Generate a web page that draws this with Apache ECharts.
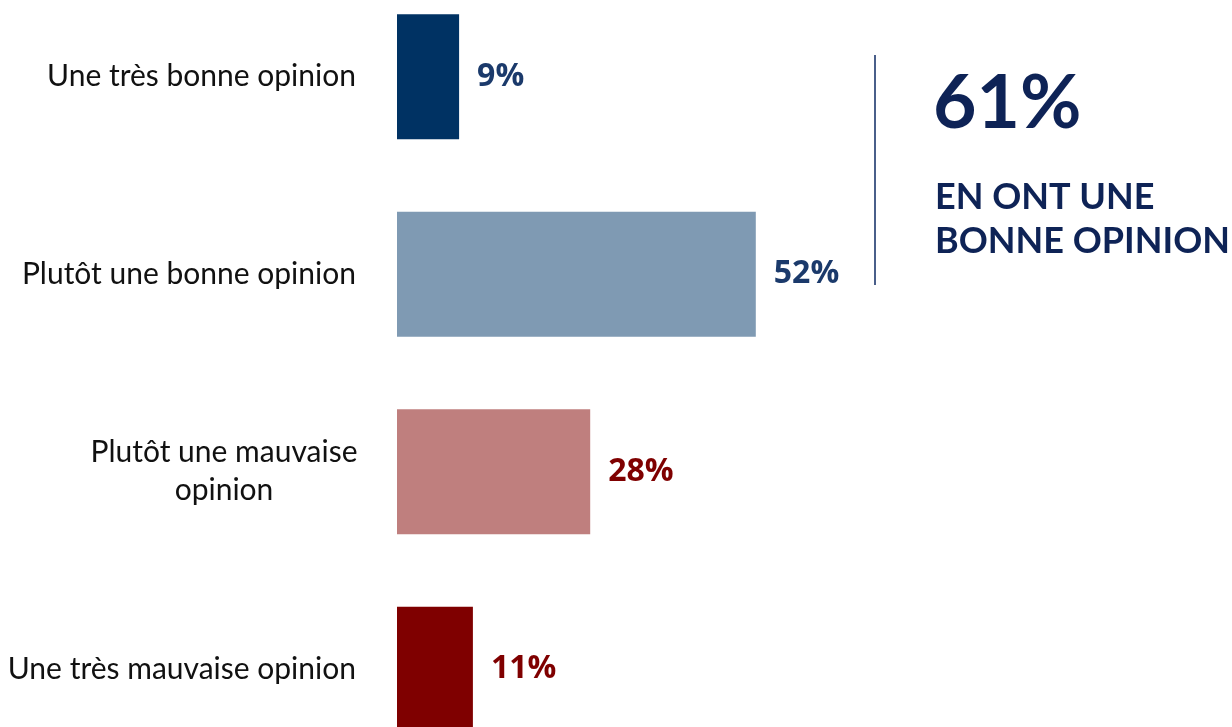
<!DOCTYPE html>
<html><head><meta charset="utf-8">
<script src="https://cdn.jsdelivr.net/npm/echarts@6/dist/echarts.min.js"></script>
<style>html,body{margin:0;padding:0;background:#fff}#c{width:1232px;height:727px}</style>
</head><body><div id="c"></div>
<script>
const categories = ["Une très bonne opinion", "Plutôt une bonne opinion", "Plutôt une mauvaise\nopinion", "Une très mauvaise opinion"];
const values = [9, 52, 28, 11];
const barColors = ["#003263", "#7F9AB3", "#BF7F7E", "#7F0000"];
const labelColors = ["#1B3A6B", "#1B3A6B", "#7F0000", "#7F0000"];
const bigValue = "61%";
const bigCaption = "EN ONT UNE\nBONNE OPINION";

const chart = echarts.init(document.getElementById('c'), null, {renderer: 'canvas'});
chart.setOption({
  animation: false,
  grid: {left: 397, top: -22, width: 690, height: 790, containLabel: false, outerBoundsMode: 'none'},
  xAxis: {type: 'value', min: 0, max: 100, show: false},
  yAxis: {
    type: 'category', inverse: true, data: categories,
    axisLine: {show: false}, axisTick: {show: false},
    axisLabel: {margin: 41, color: '#111', fontSize: 30, fontFamily: 'Lato', lineHeight: 38, align: 'right',
      formatter: function (v) {
        const lines = v.split('\n');
        if (lines.length === 1) return v;
        return lines.map(l => '{c|' + l + '}').join('\n');
      },
      rich: {c: {width: 264, align: 'center', fontSize: 30, fontFamily: 'Lato', color: '#111', lineHeight: 38}}
    }
  },
  series: [{
    type: 'bar', barWidth: 125,
    data: values.map((v, i) => ({value: v, itemStyle: {color: barColors[i]},
      label: {color: labelColors[i]}})),
    label: {show: true, position: 'right', distance: 18, formatter: '{c}%',
      fontSize: 32, fontWeight: 'bold', fontFamily: 'Open Sans'}
  }],
  graphic: [
    {type: 'line', shape: {x1: 875, y1: 55, x2: 875, y2: 285}, style: {stroke: '#4A5F8A', lineWidth: 2}},
    {type: 'text', left: 933, top: 66, style: {text: bigValue, fill: '#0E2356', font: 'bold 75px Lato'}},
    {type: 'text', left: 935, top: 175, style: {text: bigCaption, fill: '#0E2356', font: 'bold 36px Lato', lineHeight: 44}}
  ]
});
</script></body></html>
